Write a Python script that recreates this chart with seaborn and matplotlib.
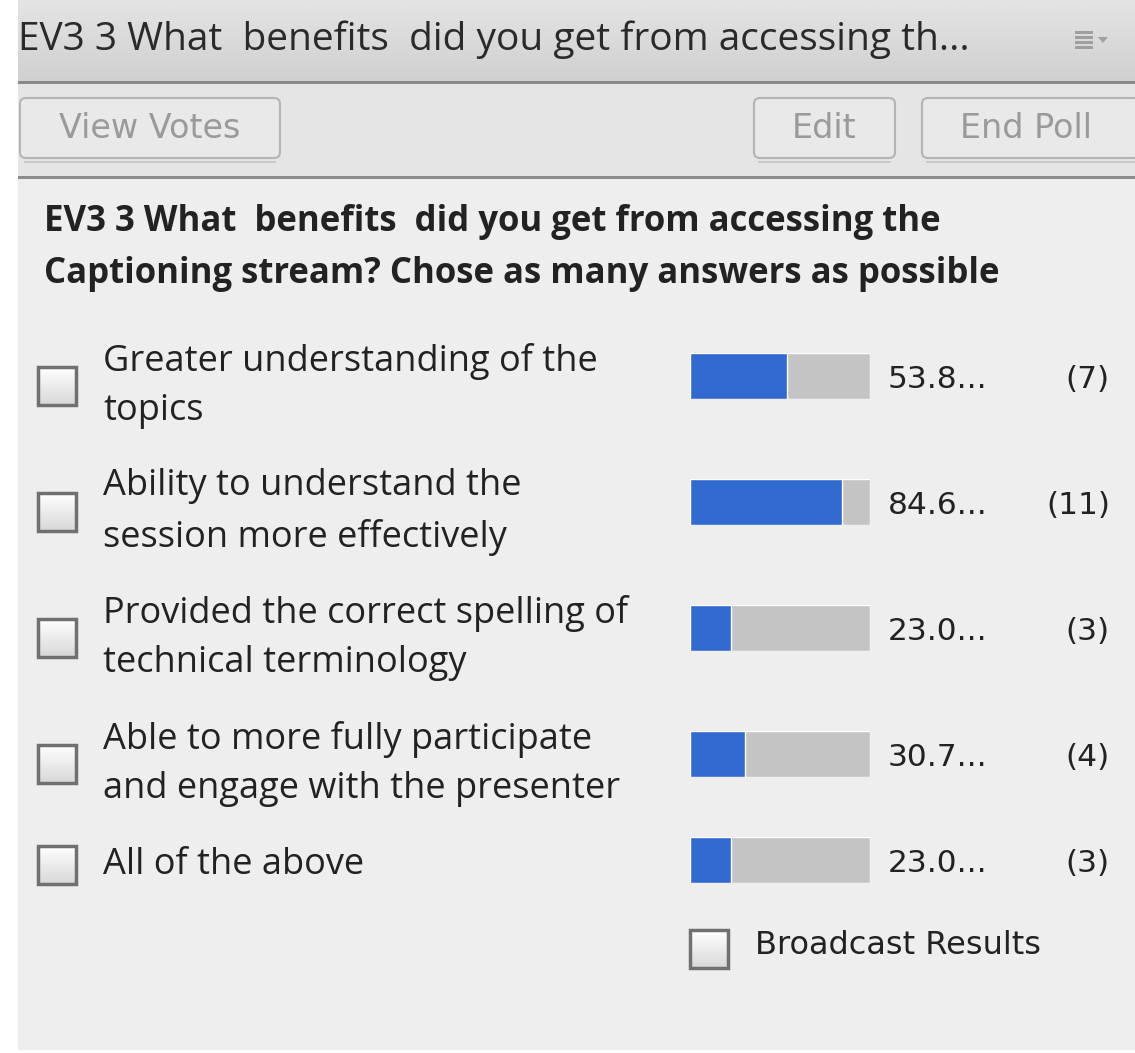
import numpy as np
import pandas as pd
import matplotlib
matplotlib.use("Agg")
import matplotlib.pyplot as plt
from matplotlib.patches import Rectangle, FancyBboxPatch, Polygon
import seaborn as sns

# poll content
header_title = "EV3 3 What  benefits  did you get from accessing th..."
question_lines = ["EV3 3 What  benefits  did you get from accessing the",
                  "Captioning stream? Chose as many answers as possible"]
options = ["Greater understanding of the\ntopics",
           "Ability to understand the\nsession more effectively",
           "Provided the correct spelling of\ntechnical terminology",
           "Able to more fully participate\nand engage with the presenter",
           "All of the above"]
votes = [7, 11, 3, 4, 3]
total_votes = 13
buttons = ["View Votes", "Edit", "End Poll"]
broadcast_label = "Broadcast Results"

pct = [np.floor(v / total_votes * 1000) / 10 for v in votes]
df = pd.DataFrame({"option": options, "votes": votes, "pct": pct})

BLUE = "#3169cf"
TRACK = "#c4c4c4"
BG = "#eeeeee"
TXT = "#222222"

W, H = 1135, 1053
sns.set_theme(style="white")
plt.rcParams["font.family"] = ["Open Sans", "DejaVu Sans"]

fig = plt.figure(figsize=(W / 100, H / 100), dpi=100, facecolor="white")
ui = fig.add_axes([0, 0, 1, 1])
ui.set_xlim(0, W)
ui.set_ylim(H, 0)
ui.axis("off")

# panel background
ui.add_patch(Rectangle((18, 0), W - 18, 1050, color=BG, lw=0))

# header bar with gradient
grad = np.linspace(0, 1, 64).reshape(-1, 1)
ui.imshow(grad, extent=(18, W, 82, 0), cmap=sns.blend_palette(["#e4e4e4", "#d0d0d0"], as_cmap=True),
          aspect="auto", zorder=1)
ui.add_patch(Rectangle((18, 81), W - 18, 3, color="#8a8a8a", lw=0, zorder=2))
ui.text(18, 40, header_title, fontsize=28, color="#2a2a2a", va="center", ha="left",
        fontweight="medium", zorder=3)
# menu icon
for k in range(4):
    ui.add_patch(Rectangle((1075, 31 + k * 5), 18, 2.5, color="#a0a0a0", lw=0, zorder=3))
ui.add_patch(Polygon([(1098, 37), (1108, 37), (1103, 43)], closed=True, color="#a0a0a0", lw=0, zorder=3))

# toolbar
ui.add_patch(Rectangle((18, 84), W - 18, 93, color="#e5e5e5", lw=0, zorder=1))
ui.add_patch(Rectangle((18, 176), W - 18, 3, color="#8c8c8c", lw=0, zorder=2))
button_boxes = [(20, 280), (754, 895), (922, 1140)]
for label, (x0, x1) in zip(buttons, button_boxes):
    ui.add_patch(FancyBboxPatch((x0, 98), x1 - x0, 60, boxstyle="round,pad=0,rounding_size=6",
                                fc="#e9e9e9", ec="#b4b4b4", lw=1.5, zorder=3))
    ui.add_patch(Rectangle((x0 + 4, 161), x1 - x0 - 8, 2, color="#c8c8c8", lw=0, zorder=3))
    ui.text((x0 + min(x1, W)) / 2 - (3 if x1 > W else 0), 128, label, fontsize=24, color="#9a9a9a",
            ha="center", va="center", family=["DejaVu Sans"], zorder=4)

# question text
for k, line in enumerate(question_lines):
    ui.text(44, 222 + k * 52, line, fontsize=25, fontweight="bold", color=TXT,
            ha="left", va="center", zorder=3)

# option rows
row_centers = [376, 502, 628, 754, 860]
box_grad = np.linspace(0, 1, 32).reshape(-1, 1)
box_cmap = sns.blend_palette(["#ffffff", "#d8d8d8"], as_cmap=True)


def checkbox(x, y, size=38):
    ui.imshow(box_grad, extent=(x, x + size, y + size, y), cmap=box_cmap, aspect="auto", zorder=3)
    ui.add_patch(Rectangle((x, y), size, size, fill=False, ec="#707070", lw=2.5, zorder=4))


for i, yc in enumerate(row_centers):
    two_line = "\n" in df.option[i]
    ty = yc + (10 if two_line else 5)
    checkbox(38, ty - 19)
    ui.text(103, ty, df.option[i], fontsize=26, color=TXT, ha="left", va="center",
            linespacing=1.5, zorder=3)

    # bar track + filled share, drawn with seaborn in its own small axes
    ax = fig.add_axes([690 / W, 1 - (yc + 23) / H, 180 / W, 46 / H])
    sns.barplot(data=df.iloc[[i]], x=[100], y="option", orient="h", color=TRACK,
                saturation=1, width=1, ax=ax)
    sns.barplot(data=df.iloc[[i]], x="pct", y="option", orient="h", color=BLUE,
                saturation=1, width=1, ax=ax)
    ax.set_xlim(0, 100)
    ax.set_ylim(0.5, -0.5)
    ax.axis("off")

    ui.text(888, yc + 4, f"{df.pct[i]:.1f}...", fontsize=22.5, color=TXT, ha="left", va="center",
            family=["DejaVu Sans"], zorder=3)
    ui.text(1110, yc + 4, f"({df.votes[i]})", fontsize=22.5, color=TXT, ha="right", va="center",
            family=["DejaVu Sans"], zorder=3)

# broadcast option
checkbox(690, 930)
ui.text(755, 946, broadcast_label, fontsize=23, color=TXT, ha="left", va="center",
        family=["DejaVu Sans"], zorder=3)

fig.savefig("out.png", dpi=100, facecolor="white")
